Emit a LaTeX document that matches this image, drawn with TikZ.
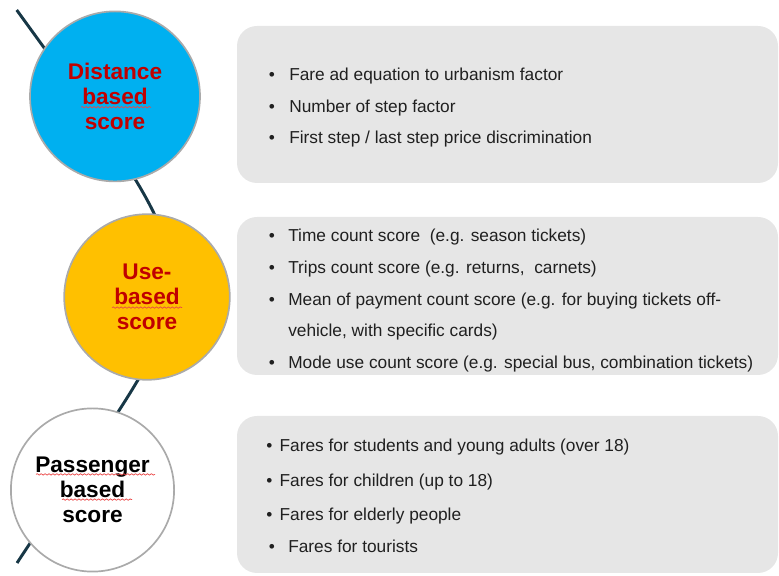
\documentclass[tikz,border=0pt]{standalone}
\usepackage{fontspec}
\setmainfont{Liberation Sans}
\usetikzlibrary{decorations.pathmorphing}
\definecolor{DistBlue}{RGB}{0,176,240}
\definecolor{UseOrange}{RGB}{255,192,0}
\definecolor{ScoreRed}{RGB}{192,0,0}
\definecolor{RimGray}{RGB}{170,170,170}
\definecolor{BoxGray}{RGB}{230,230,230}
\definecolor{ItemGray}{RGB}{32,32,32}
\definecolor{PathNavy}{RGB}{23,55,70}
\definecolor{SpellRed}{RGB}{235,70,70}
\newcommand{\ScoreFont}{\fontsize{16.1}{17.8}\selectfont\bfseries}
\newcommand{\ItemFont}{\fontsize{12.3}{14}\selectfont}
\newcommand{\BulletLine}[5]{% name, bullet x, text x, baseline y, text
\node[itembullet] (#1b) at (#2,#4) {\textbullet};
\node[itemtext] (#1) at (#3,#4) {#5};
}

\begin{document}
\begin{tikzpicture}[
scorecircle/.style={circle, draw=RimGray, line width=1.2pt, inner sep=0, align=center, font=\ScoreFont},
infobox/.style={fill=BoxGray, rounded corners=0.5cm},
itembullet/.style={anchor=base, inner sep=0, text=ItemGray, font=\ItemFont},
itemtext/.style={anchor=base west, inner sep=0, text=ItemGray, font=\ItemFont},
spellmark/.style={SpellRed, line width=0.5pt, decorate, decoration={snake, amplitude=0.5pt, segment length=2.8pt}},
]
\useasboundingbox (0,0) rectangle (19.475,14.4);

%%%%%%%%%% CURVE BEHIND THE CIRCLES %%%%%%%%%%
\coordinate (PathTop) at (0.4175,14.15);
\coordinate (PathBottom) at (0.425,0.325);
\draw[PathNavy, line width=2.1pt] (PathTop) .. controls (5.85,6.65) and (5.35,7.83) .. (PathBottom);

%%%%%%%%%% CIRCLES %%%%%%%%%%
\node[scorecircle, fill=DistBlue, text=ScoreRed, minimum size=4.25cm] (Distance) at (2.875,11.99) {Distance\\based\\score};
\node[scorecircle, fill=UseOrange, text=ScoreRed, minimum size=4.14cm] (Use) at (3.675,6.975) {Use-\\based\\score};
\node[scorecircle, fill=white, text=black, minimum size=4.08cm] (Passenger) at (2.3125,2.15) {Passenger\\based\\score};

% spell check marks
\draw[spellmark] (2.025,11.72) -- (3.775,11.72);
\draw[spellmark] (2.8,6.71) -- (4.55,6.71);
\draw[spellmark] (0.9,2.54) -- (3.875,2.54);
\draw[spellmark] (1.55,1.91) -- (3.3,1.91);

%%%%%%%%%% BOXES %%%%%%%%%%
\fill[infobox] (5.925,9.825) rectangle (19.45,13.75);
\fill[infobox] (5.925,5.025) rectangle (19.45,8.975);
\fill[infobox] (5.925,0.075) rectangle (19.45,4.0);

%%%%%%%%%% DISTANCE ITEMS %%%%%%%%%%
\BulletLine{DistA}{6.8}{7.225}{12.375}{Fare ad equation to urbanism factor}
\BulletLine{DistB}{6.8}{7.225}{11.5875}{Number of step factor}
\BulletLine{DistC}{6.8}{7.225}{10.8125}{First step / last step price discrimination}

%%%%%%%%%% USE ITEMS %%%%%%%%%%
\BulletLine{UseA}{6.8}{7.2}{8.35}{Time count score\ \ (e.g. season tickets)}
\BulletLine{UseB}{6.8}{7.2}{7.5575}{Trips count score (e.g. returns,\ \ carnets)}
\BulletLine{UseC}{6.8}{7.2}{6.7575}{Mean of payment count score (e.g. for buying tickets off-}
\node[itemtext] (UseCc) at (7.2,5.975) {vehicle, with specific cards)};
\BulletLine{UseD}{6.8}{7.2}{5.1825}{Mode use count score (e.g. special bus, combination tickets)}

%%%%%%%%%% PASSENGER ITEMS %%%%%%%%%%
\BulletLine{PassA}{6.7325}{6.9825}{3.1}{Fares for students and young adults (over 18)}
\BulletLine{PassB}{6.7325}{6.9825}{2.225}{Fares for children (up to 18)}
\BulletLine{PassC}{6.7325}{6.9825}{1.3925}{Fares for elderly people}
\BulletLine{PassD}{6.8}{7.2}{0.5825}{Fares for tourists}
\end{tikzpicture}
\end{document}
